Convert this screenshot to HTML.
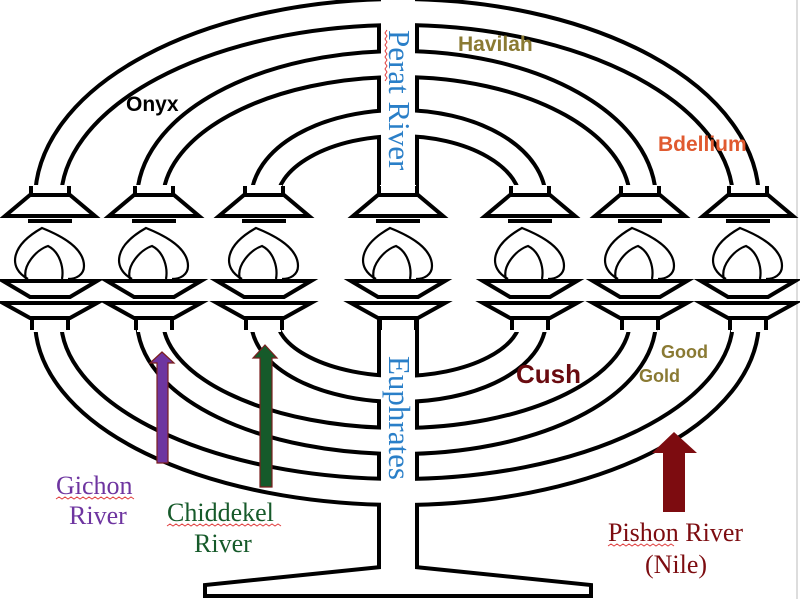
<!DOCTYPE html>
<html><head><meta charset="utf-8"><style>html,body{margin:0;padding:0;background:#fff}svg{display:block}</style></head>
<body>
<svg width="800" height="599" viewBox="0 0 800 599" xmlns="http://www.w3.org/2000/svg">
<rect width="800" height="599" fill="#fff"/>
<line x1="797" y1="0" x2="797" y2="599" stroke="#ddd" stroke-width="2"/>
<g fill="none" stroke="#000" stroke-width="30">
<path d="M48 200 A352 188 0 0 1 400 12"/>
<path d="M150 200 A250 136 0 0 1 400 64"/>
<path d="M264 200 A136 77 0 0 1 400 123"/>
<path d="M400 12 A346 188 0 0 1 746 200"/>
<path d="M400 64 A243 136 0 0 1 643 200"/>
<path d="M400 123 A133 77 0 0 1 533 200"/>
<path d="M48 320 A352 172 0 0 0 400 492"/>
<path d="M150 320 A250 121 0 0 0 400 441"/>
<path d="M264 320 A136 69 0 0 0 400 389"/>
<path d="M400 492 A346 172 0 0 0 746 320"/>
<path d="M400 441 A243 121 0 0 0 643 320"/>
<path d="M400 389 A133 69 0 0 0 533 320"/>
</g>
<rect x="377" y="-5" width="42" height="575" fill="#000"/>
<g fill="none" stroke="#fff" stroke-width="22">
<path d="M48 200 A352 188 0 0 1 400 12"/>
<path d="M150 200 A250 136 0 0 1 400 64"/>
<path d="M264 200 A136 77 0 0 1 400 123"/>
<path d="M400 12 A346 188 0 0 1 746 200"/>
<path d="M400 64 A243 136 0 0 1 643 200"/>
<path d="M400 123 A133 77 0 0 1 533 200"/>
<path d="M48 320 A352 172 0 0 0 400 492"/>
<path d="M150 320 A250 121 0 0 0 400 441"/>
<path d="M264 320 A136 69 0 0 0 400 389"/>
<path d="M400 492 A346 172 0 0 0 746 320"/>
<path d="M400 441 A243 121 0 0 0 643 320"/>
<path d="M400 389 A133 69 0 0 0 533 320"/>
</g>
<rect x="381" y="-5" width="34" height="575" fill="#fff"/>
<rect x="370" y="218" width="60" height="100" fill="#fff"/>
<polygon points="381,567 205,585 205,596 591,596 591,585 415,567" fill="#fff" stroke="#000" stroke-width="4" stroke-linejoin="miter"/>
<rect x="381" y="540" width="34" height="30" fill="#fff"/>

<defs>
<g id="cup">
<rect x="-18" y="185" width="36" height="10" fill="#fff"/>
<line x1="-19" y1="186" x2="-19" y2="195" stroke="#000" stroke-width="4"/>
<line x1="19" y1="186" x2="19" y2="195" stroke="#000" stroke-width="4"/>
<polygon points="-20,195 20,195 45,216 -45,216" fill="#fff" stroke="#000" stroke-width="4"/>
<line x1="-22" y1="221" x2="22" y2="221" stroke="#000" stroke-width="4"/>
<path d="M-22 279 C-42 268 -40 246 -8 228 C12 236 34 248 34 266 C34 275 26 279 18 279" fill="none" stroke="#000" stroke-width="2.2"/>
<path d="M-24 279 C-28 266 -14 250 -2 246 C10 252 14 268 12 279" fill="none" stroke="#000" stroke-width="2.2"/>
<polygon points="-47,281 47,281 20,297 -20,297" fill="#fff" stroke="#000" stroke-width="4"/>
<polygon points="-47,303 47,303 20,318 -20,318" fill="#fff" stroke="#000" stroke-width="4"/>
<rect x="-17" y="320" width="34" height="12" fill="#fff"/>
<line x1="-18" y1="318" x2="-18" y2="330" stroke="#000" stroke-width="4"/>
<line x1="18" y1="318" x2="18" y2="330" stroke="#000" stroke-width="4"/>
</g>
</defs>
<use href="#cup" x="50"/>
<use href="#cup" x="154"/>
<use href="#cup" x="264"/>
<use href="#cup" x="398"/>
<use href="#cup" x="530"/>
<use href="#cup" x="640"/>
<use href="#cup" x="748"/>

<polygon points="162,352 174,363 168,363 168,463 157,463 157,363 150,363" fill="#6e35a0" stroke="#7a1e1e" stroke-width="1.2"/>
<polygon points="265,345 277,358 272,358 272,487 260,487 260,358 253,358" fill="#165a2a" stroke="#7a1e1e" stroke-width="1.2"/>
<polygon points="674,432 697,453 685,453 685,512 663,512 663,453 652,453" fill="#7d0c10"/>

<g font-family="Liberation Sans, sans-serif" font-weight="bold">
<text x="458" y="51" font-size="21" fill="#8a7a33">Havilah</text>
<text x="126" y="111" font-size="21" fill="#000">Onyx</text>
<text x="658" y="151" font-size="21" fill="#e05a30">Bdellium</text>
<text x="516" y="383" font-size="26" fill="#6a0b10">Cush</text>
<text x="661" y="358" font-size="18" fill="#8a7a33">Good</text>
<text x="639" y="382" font-size="18" fill="#8a7a33">Gold</text>
</g>
<g font-family="Liberation Serif, serif" font-size="26">
<text transform="translate(389,30) rotate(90)" fill="#2a7fc8" font-size="31">Perat River</text>
<text transform="translate(389,356) rotate(90)" fill="#2a7fc8" font-size="31">Euphrates</text>
<text x="56" y="494" fill="#6e35a0">Gichon</text>
<text x="69" y="524" fill="#6e35a0">River</text>
<text x="167" y="521" fill="#165a2a">Chiddekel</text>
<text x="194" y="552" fill="#165a2a">River</text>
<text x="608" y="541" fill="#7d0c10">Pishon River</text>
<text x="645" y="573" fill="#7d0c10">(Nile)</text>
</g>
<g fill="none" stroke="#e04040" stroke-width="1">
<path d="M56 499 l3 -2 l3 2 l3 -2 l3 2 l3 -2 l3 2 l3 -2 l3 2 l3 -2 l3 2 l3 -2 l3 2 l3 -2 l3 2 l3 -2 l3 2 l3 -2 l3 2 l3 -2 l3 2 l3 -2 l3 2 l3 -2 l3 2 l3 -2 l3 2"/>
<path d="M167 526 l3 -2 l3 2 l3 -2 l3 2 l3 -2 l3 2 l3 -2 l3 2 l3 -2 l3 2 l3 -2 l3 2 l3 -2 l3 2 l3 -2 l3 2 l3 -2 l3 2 l3 -2 l3 2 l3 -2 l3 2 l3 -2 l3 2 l3 -2 l3 2 l3 -2 l3 2 l3 -2 l3 2 l3 -2 l3 2 l3 -2 l3 2 l3 -2 l3 2 l3 -2 l3 2"/>
<path d="M608 546 l3 -2 l3 2 l3 -2 l3 2 l3 -2 l3 2 l3 -2 l3 2 l3 -2 l3 2 l3 -2 l3 2 l3 -2 l3 2 l3 -2 l3 2 l3 -2 l3 2 l3 -2 l3 2 l3 -2 l3 2"/>
<path d="M387 30 l-2 3 l2 3 l-2 3 l2 3 l-2 3 l2 3 l-2 3 l2 3 l-2 3 l2 3 l-2 3 l2 3 l-2 3 l2 3 l-2 3 l2 3 l-2 3"/>
</g>
</svg>
</body></html>
